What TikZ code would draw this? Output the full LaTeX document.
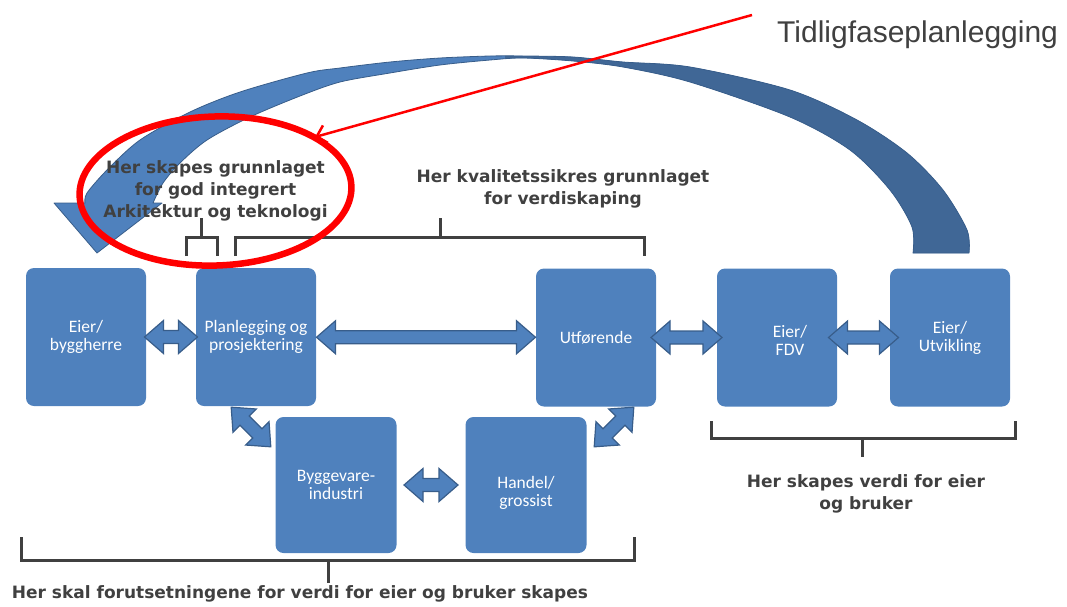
\documentclass[tikz,border=0pt]{standalone}
\usepackage{fontspec}
\setmainfont{DejaVu Sans}
\newfontfamily\boxfont{Carlito}
\newfontfamily\titlefont{Liberation Sans}
\usetikzlibrary{arrows.meta,calc}

\definecolor{boxblue}{HTML}{4F81BD}
\definecolor{edgeblue}{HTML}{385D8A}
\definecolor{deepblue}{HTML}{406796}
\definecolor{ink}{HTML}{404040}

\tikzset{
  box/.style={fill=boxblue, rounded corners=8pt, minimum width=120pt,
    minimum height=138pt, inner sep=0pt, text=white, align=center,
    font=\boxfont\fontsize{17.5}{18}\selectfont},
  smallbox/.style={box, minimum width=121pt, minimum height=136pt},
  boxtext/.style={text=white, align=center, inner sep=0pt,
    font=\boxfont\fontsize{17.5}{18}\selectfont},
  note/.style={text=ink, align=center, inner sep=0pt,
    font=\bfseries\fontsize{17}{22}\selectfont},
  bracket/.style={draw=ink, line width=3pt},
  blockarrow/.style={fill=boxblue, draw=edgeblue, line width=1.2pt, line join=miter},
  pics/dblarrow/.style={code={
    \path[blockarrow] (-#1,0) -- (-#1+19,-16.5) -- (-#1+19,-6.5) -- (#1-19,-6.5)
      -- (#1-19,-16.5) -- (#1,0) -- (#1-19,16.5) -- (#1-19,6.5) -- (-#1+19,6.5)
      -- (-#1+19,16.5) -- cycle;
  }},
}

\begin{document}
\begin{tikzpicture}[x=1pt,y=-1pt]
\useasboundingbox (0,0) rectangle (1067,606);

% big curved arrow from Eier/Utvikling back to Eier/byggherre
\path[save path=\bendpath]
  (97,253) -- (162,203) -- plot[smooth] coordinates {
    (153,203) (163,183) (180,163) (207,140) (250,117) (300,96) (340,82)
    (390,73) (440,65) (490,60) (523,58) (573,61) (623,67) (690,82)
    (790,117) (850,150) (890,190) (912,227) (913,253)}
  -- (969,253) -- plot[smooth] coordinates {
    (969,253) (967,230) (943,190) (907,153) (857,120) (790,90) (690,67)
    (623,62) (573,57) (523,56) (490,56) (440,58) (390,62) (340,68)
    (307,73) (240,92) (190,112) (140,140) (107,170) (87,193) (85,203)}
  -- (54,203) -- cycle;
\fill[boxblue, use path=\bendpath];
\begin{scope}
  \clip (505,0) rectangle (1067,300);
  \fill[deepblue, use path=\bendpath];
\end{scope}
\draw[edgeblue, line width=0.8pt, line join=round, use path=\bendpath];

% process boxes
\node[box] (eier) at (86,337) {Eier/\\byggherre};
\node[box] (plan) at (256,337) {Planlegging og\\prosjektering};
\node[box] (utf)  at (596,337.5) {Utførende};
\node[box] (fdv)  at (777,337.5) {};
\node[boxtext] (fdvtext) at ($(fdv)+(13,3)$) {Eier/\\FDV};
\node[box] (utv)  at (950,337.5) {Eier/\\Utvikling};
\node[smallbox] (bygg) at (336,485) {Byggevare-\\industri};
\node[smallbox] (handel) at (526,485) {};
\node[boxtext] (handeltext) at ($(handel)+(0,8)$) {Handel/\\grossist};

% two-way block arrows between the boxes
\pic at ($(eier.east)!0.5!(plan.west)$) {dblarrow=26.5};
\pic at ($(plan.east)!0.5!(utf.west)$) {dblarrow=109.5};
\pic at ($(utf.east)!0.5!(fdv.west)$) {dblarrow=35.5};
\pic at ($(fdv.east)!0.5!(utv.west)$) {dblarrow=35};
\pic at ($(bygg.east)!0.5!(handel.west)$) {dblarrow=27};
\pic[rotate=-45] at (251,427) {dblarrow=28};
\pic[rotate=45] at (614,427) {dblarrow=28};

% brackets
\draw[bracket] (186,256) -- (186,237) -- (217,237) -- (217,256);
\draw[bracket] (201,237) -- (201,218);
\draw[bracket] (235,256) -- (235,237) -- (644,237) -- (644,256);
\draw[bracket] (440,237) -- (440,218);
\draw[bracket] (21,537) -- (21,560) -- (634,560) -- (634,537);
\draw[bracket] (328,560) -- (328,583);
\draw[bracket] (711,421) -- (711,438) -- (1015,438) -- (1015,421);
\draw[bracket] (862,438) -- (862,457);

% annotations
\node[note] (basis) at (215.5,191) {Her skapes grunnlaget\\for god integrert\\Arkitektur og teknologi};
\node[note] (quality) at (563,188.5) {Her kvalitetssikres grunnlaget\\for verdiskaping};
\node[note] (value) at (866,494) {Her skapes verdi for eier\\og bruker};
\node[note] (premise) at (300,594) {Her skal forutsetningene for verdi for eier og bruker skapes};
\node[anchor=base west, inner sep=0pt, text=ink,
  font=\titlefont\fontsize{30}{36}\selectfont] (early) at (777,42) {Tidligfaseplanlegging};

% red highlight
\draw[red, line width=6.5pt, rotate around={2:(215.5,191)}]
  (215.5,191) ellipse [x radius=136, y radius=74.5];
\coordinate (redstart) at (752,15);
\coordinate (redtip) at (315,137);
\draw[red, line width=2.5pt, -{Straight Barb[length=9pt,width=18pt]}] (redstart) -- (redtip);
\end{tikzpicture}
\end{document}
